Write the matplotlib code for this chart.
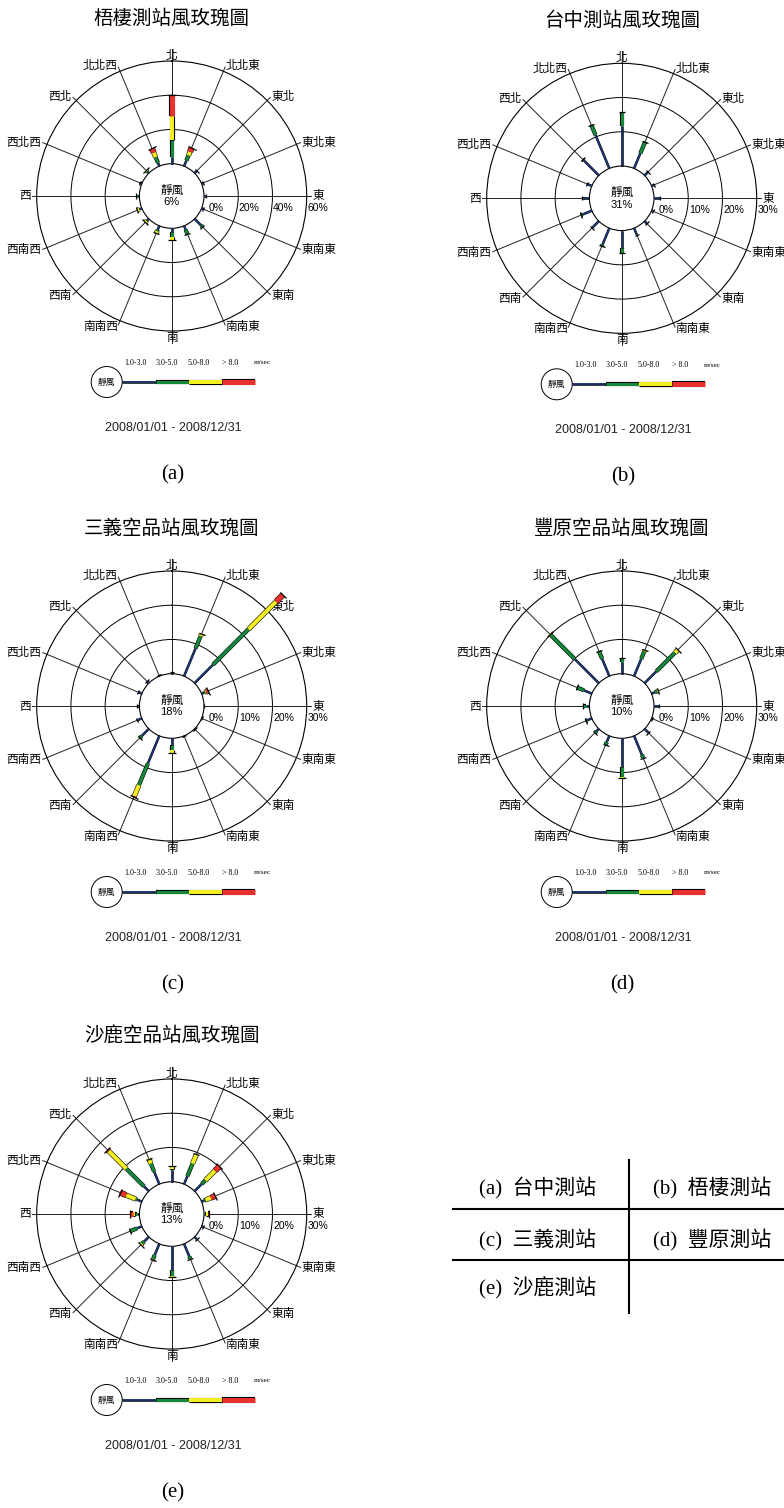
import numpy as np
import matplotlib
matplotlib.use("Agg")
import matplotlib.pyplot as plt
import matplotlib.patheffects as pe
from matplotlib.markers import MarkerStyle
from matplotlib.transforms import Affine2D
from matplotlib.patches import Circle

plt.rcParams['font.family'] = ['Noto Sans CJK TC', 'DejaVu Sans']

W, H = 784, 1508

DIRS = ["北", "北北東", "東北", "東北東", "東", "東南東", "東南", "南南東",
        "南", "南南西", "西南", "西南西", "西", "西北西", "西北", "北北西"]
SPEED_BINS = ["1.0-3.0", "3.0-5.0", "5.0-8.0", "> 8.0"]
BIN_COLORS = ["#1f3a7a", "#16883a", "#f2ee22", "#e8302e"]
DATE_RANGE = "2008/01/01 - 2008/12/31"

# frequency (%) per direction N, NNE, NE ... NNW, one list per speed bin
wuqi_13 = [4.0, 3.5, 1.8, 1.2, 1.2, 1.1, 5.5, 2.5, 2.0, 2.4, 1.3, 1.6, 1.5, 1.4, 1.0, 2.1]
wuqi_35 = [9.8, 3.3, 0, 0, 0, 0, 0.9, 2.5, 2.9, 1.0, 0.5, 0, 0.6, 0, 0.5, 3.6]
wuqi_58 = [14.2, 2.3, 0, 0, 0, 0, 0, 0, 1.9, 1.2, 1.0, 1.5, 0, 0, 0.7, 2.9]
wuqi_8 = [12.4, 2.6, 0, 0, 0, 0, 0, 0, 0, 0, 0, 0, 0, 0, 0, 2.6]
wuqi_calm = "6%"

taichung_13 = [11.7, 4.8, 1.3, 0.7, 1.8, 0.6, 0.9, 2.1, 5.2, 5.2, 2.7, 3.0, 2.3, 1.6, 6.2, 10.6]
taichung_35 = [4.2, 3.7, 0, 0, 0, 0, 0, 0, 1.4, 0.6, 0, 0.5, 0, 0, 0.5, 3.1]
taichung_58 = [0] * 16
taichung_8 = [0] * 16
taichung_calm = "31%"

sanyi_13 = [0.6, 8.8, 7.6, 0.8, 0.1, 0.1, 0.1, 0.1, 2.0, 8.7, 3.0, 1.5, 0.8, 1.1, 0.8, 0.3]
sanyi_35 = [0, 3.9, 14.7, 0.4, 0, 0, 0, 0, 1.5, 6.9, 0.8, 0, 0, 0, 0, 0]
sanyi_58 = [0, 0.7, 11.4, 0.3, 0, 0, 0, 0, 0.7, 3.5, 0, 0, 0, 0, 0, 0]
sanyi_8 = [0, 0, 2.8, 0.5, 0, 0, 0, 0, 0, 0.3, 0, 0, 0, 0, 0, 0]
sanyi_calm = "18%"

fengyuan_13 = [3.5, 5.5, 4.9, 1.1, 1.6, 0.3, 1.6, 6.0, 8.5, 2.0, 1.0, 1.4, 1.0, 2.5, 10.0, 5.5]
fengyuan_35 = [1.2, 2.3, 7.7, 0.7, 0, 0, 0, 0.9, 2.9, 0.8, 0.6, 0.6, 0.8, 2.2, 9.9, 2.4]
fengyuan_58 = [0, 0.4, 1.1, 0.4, 0, 0, 0, 0, 0.3, 0, 0, 0, 0, 0, 0.4, 0]
fengyuan_8 = [0] * 16
fengyuan_calm = "10%"

shalu_13 = [3.3, 2.5, 3.0, 0.8, 0.4, 0.5, 0.9, 4.0, 7.0, 3.5, 2.0, 1.5, 0.8, 1.5, 2.0, 4.0]
shalu_35 = [0.3, 4.0, 1.5, 0.5, 0.3, 0, 0, 0.7, 1.7, 1.4, 0.8, 2.2, 0.5, 0.5, 7.3, 2.5]
shalu_58 = [1.0, 2.9, 4.0, 1.7, 0.4, 0, 0, 0, 0.4, 0.3, 0.5, 0, 0.5, 3.0, 7.3, 1.6]
shalu_8 = [0, 0, 1.8, 1.3, 0.5, 0, 0, 0, 0, 0, 0, 0, 0.9, 1.9, 0.5, 0]
shalu_calm = "13%"

R = 135.0      # outer ring radius, px
R_IN = 32.3    # calm circle radius, px
K = R_IN / (R - R_IN)

LINE_W = [(1.2, 1.8), (2.2, 3.0), (2.9, 3.7), (3.6, 4.4)]  # (core, outline) in pt


def px_to_r(d, vmax):
    return vmax * (d * (1 + K) / R - K)


def seg_line(ax, xs, ys, b, **kw):
    core, edge = LINE_W[b]
    ax.plot(xs, ys, color=BIN_COLORS[b], lw=core, solid_capstyle="butt",
            path_effects=[pe.Stroke(linewidth=edge, foreground="k"), pe.Normal()], **kw)


def draw_rose(fig, cx, cy, vmax, bins, calm):
    ax = fig.add_axes([(cx - R) / W, (H - cy - R) / H, 2 * R / W, 2 * R / H],
                      projection="polar", zorder=2)
    ax.set_theta_zero_location("N")
    ax.set_theta_direction(-1)
    ax.set_rlim(0, vmax)
    ax.set_rorigin(-vmax * K)
    ax.set_xticks([])
    ax.set_yticks([vmax / 3, 2 * vmax / 3])
    ax.set_yticklabels([])
    ax.tick_params(axis="y", length=0)
    ax.yaxis.grid(True, color="k", lw=0.7)
    for sp in ax.spines.values():
        sp.set_color("k")
        sp.set_linewidth(0.8)

    for i, name in enumerate(DIRS):
        th = np.deg2rad(22.5 * i)
        d_end = 147 if i % 8 == 0 else 139.5
        ax.plot([th, th], [0, px_to_r(d_end, vmax)], color="#222222", lw=0.7,
                clip_on=False, zorder=1.5)
        s = np.sin(th)
        ha = "center" if abs(s) < 0.1 else ("left" if s > 0 else "right")
        ax.text(th, px_to_r(141, vmax), name, ha=ha, va="center", fontsize=8.4,
                clip_on=False, zorder=3)

    for j, v in enumerate([0, vmax / 3, 2 * vmax / 3, vmax]):
        dx = 3 if j == 0 else 0.4
        ax.annotate(f"{v:.0f}%", xy=(np.pi / 2, v), xytext=(dx, -8.5),
                    textcoords="offset points", ha="left", va="center",
                    fontsize=7.5, family=["Liberation Sans", "DejaVu Sans"],
                    annotation_clip=False)

    for i in range(len(DIRS)):
        th = np.deg2rad(22.5 * i)
        base = 0.0
        last = None
        for b in range(4):
            v = bins[b][i]
            if v <= 0:
                continue
            seg_line(ax, [th, th], [base, base + v], b, clip_on=False, zorder=4 + b * 0.01)
            base += v
            last = LINE_W[b][1]
        if last:
            mk = MarkerStyle("_", transform=Affine2D().rotate_deg(-22.5 * i))
            ax.plot([th], [base], marker=mk, ms=last + 1.5, mew=0.9, color="k",
                    clip_on=False, zorder=5)

    ax.annotate("靜風", xy=(0.5, 0.5), xycoords="axes fraction", xytext=(0, 4.3),
                textcoords="offset points", ha="center", va="center", fontsize=8.4)
    ax.annotate(calm, xy=(0.5, 0.5), xycoords="axes fraction", xytext=(0, -4.6),
                textcoords="offset points", ha="center", va="center", fontsize=8,
                family=["Liberation Sans", "DejaVu Sans"])
    return ax


def draw_legend(ov, cx, cy):
    ly = cy + 186
    ov.add_patch(Circle((cx - 65, ly), 15.5, fc="white", ec="k", lw=0.7, zorder=3))
    ov.text(cx - 65, ly, "靜風", fontsize=6.3, ha="center", va="center", zorder=4)
    edges = [cx - 49.5, cx - 15.7, cx + 17.3, cx + 50, cx + 83.5]
    for b in range(4):
        seg_line(ov, [edges[b], edges[b + 1]], [ly, ly], b, zorder=2)
    xs = [cx - 36, cx - 4.5, cx + 27, cx + 58]
    for x, s in zip(xs, SPEED_BINS):
        ov.text(x, cy + 167, s, fontsize=5.8, ha="center", va="center",
                family=["Liberation Serif", "DejaVu Serif"])
    ov.text(cx + 91, cy + 167, "m/sec", fontsize=5.3, ha="center", va="center",
            family=["Liberation Serif", "DejaVu Serif"])


stations = [
    ("梧棲測站風玫瑰圖", "(a)", 60, [wuqi_13, wuqi_35, wuqi_58, wuqi_8], wuqi_calm),
    ("台中測站風玫瑰圖", "(b)", 30, [taichung_13, taichung_35, taichung_58, taichung_8], taichung_calm),
    ("三義空品站風玫瑰圖", "(c)", 30, [sanyi_13, sanyi_35, sanyi_58, sanyi_8], sanyi_calm),
    ("豐原空品站風玫瑰圖", "(d)", 30, [fengyuan_13, fengyuan_35, fengyuan_58, fengyuan_8], fengyuan_calm),
    ("沙鹿空品站風玫瑰圖", "(e)", 30, [shalu_13, shalu_35, shalu_58, shalu_8], shalu_calm),
]
centers = [(171.7, 196.0), (621.7, 198.3), (171.7, 706.0), (621.7, 706.0), (171.7, 1214.0)]

table_cells = [["(a)  台中測站", "(b)  梧棲測站"],
               ["(c)  三義測站", "(d)  豐原測站"],
               ["(e)  沙鹿測站", ""]]

fig = plt.figure(figsize=(W / 100, H / 100), dpi=100)
ov = fig.add_axes([0, 0, 1, 1], zorder=1)
ov.set_xlim(0, W)
ov.set_ylim(H, 0)
ov.axis("off")

for (title, tag, vmax, bins, calm), (cx, cy) in zip(stations, centers):
    draw_rose(fig, cx, cy, vmax, bins, calm)
    ov.text(cx, cy - 178, title, fontsize=14, ha="center", va="center")
    draw_legend(ov, cx, cy)
    ov.text(cx + 1.5, cy + 232, DATE_RANGE, fontsize=9, ha="center", va="center",
            family=["Liberation Sans", "DejaVu Sans"], color="#222222")
    ov.text(cx + 1, cy + 279, tag, fontsize=15, ha="center", va="center",
            family=["Liberation Serif", "DejaVu Serif"])

# index table
ov.plot([629, 629], [1160, 1313], color="k", lw=1.5)
ov.plot([453, 784], [1209, 1209], color="k", lw=1.5)
ov.plot([453, 784], [1260, 1260], color="k", lw=1.5)
for row, y in zip(table_cells, [1188, 1239, 1288]):
    for s, x in zip(row, [537.5, 712.5]):
        if s:
            ov.text(x, y, s, fontsize=15, ha="center", va="center",
                    family=["Liberation Serif", "Noto Sans CJK TC"])

fig.savefig("out.png", dpi=100)
